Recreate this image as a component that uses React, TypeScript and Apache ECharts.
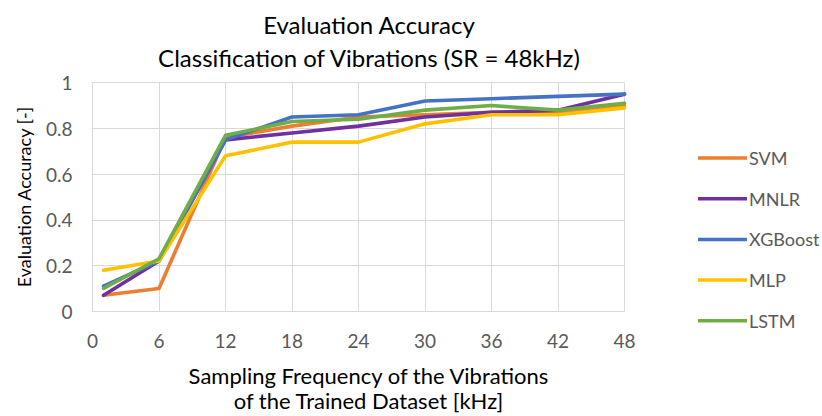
import React, { useEffect, useRef } from "react";
import * as echarts from "echarts";

const xValues = [1, 6, 12, 18, 24, 30, 36, 42, 48];
const seriesNames = ["SVM", "MNLR", "XGBoost", "MLP", "LSTM"];
const svm = [0.07, 0.1, 0.76, 0.81, 0.85, 0.86, 0.87, 0.87, 0.9];
const mnlr = [0.07, 0.22, 0.75, 0.78, 0.81, 0.85, 0.87, 0.88, 0.95];
const xgboost = [0.11, 0.22, 0.75, 0.85, 0.86, 0.92, 0.93, 0.94, 0.95];
const mlp = [0.18, 0.22, 0.68, 0.74, 0.74, 0.82, 0.86, 0.86, 0.89];
const lstm = [0.1, 0.23, 0.77, 0.83, 0.84, 0.88, 0.9, 0.88, 0.91];
const colors = ["#ED7D31", "#7030A0", "#4472C4", "#FFC000", "#70AD47"];

const FONT = "Lato, 'Open Sans', sans-serif";

export default function App() {
  const ref = useRef<HTMLDivElement>(null);
  useEffect(() => {
    if (!ref.current) return;
    const chart = echarts.init(ref.current, undefined, { renderer: "svg" });
    const allData = [svm, mnlr, xgboost, mlp, lstm];
    chart.setOption({
      animation: false,
      backgroundColor: "#ffffff",
      textStyle: { fontFamily: FONT },
      title: {
        text: "Evaluation Accuracy\nClassification of Vibrations (SR = 48kHz)",
        left: 364,
        top: 3,
        textAlign: "center",
        textStyle: { fontFamily: FONT, fontSize: 24, lineHeight: 33, fontWeight: "normal", color: "#000" },
      },
      legend: {
        orient: "vertical",
        left: 693,
        top: 143,
        itemWidth: 49,
        itemHeight: 3.5,
        itemGap: 20.7,
        icon: "rect",
        textStyle: { fontFamily: FONT, fontSize: 18, lineHeight: 20, color: "#595959", padding: [0, 0, 0, -3] },
        data: seriesNames,
      },
      grid: {
        left: 92.5,
        right: 197.5,
        top: 82.7,
        bottom: 104.7,
        containLabel: false,
        outerBoundsMode: "none",
      },
      xAxis: {
        type: "value",
        min: 0,
        max: 48,
        interval: 6,
        name: "Sampling Frequency of the Vibrations\nof the Trained Dataset [kHz]",
        nameLocation: "middle",
        nameGap: 52,
        nameTextStyle: { fontFamily: FONT, fontSize: 22, color: "#000", lineHeight: 25, padding: [0, 0, 0, 20] },
        axisLine: { show: true, lineStyle: { color: "#d9d9d9", width: 1 } },
        axisTick: { show: false },
        axisLabel: { fontFamily: FONT, fontSize: 19, color: "#595959", margin: 20 },
        splitLine: { show: true, lineStyle: { color: "#d9d9d9", width: 1 } },
      },
      yAxis: {
        type: "value",
        min: 0,
        max: 1,
        interval: 0.2,
        name: "Evaluation Accuracy [-]",
        nameLocation: "middle",
        nameGap: 60,
        nameTextStyle: { fontFamily: FONT, fontSize: 18, color: "#000" },
        axisLine: { show: true, lineStyle: { color: "#d9d9d9", width: 1 } },
        axisTick: { show: false },
        axisLabel: { fontFamily: FONT, fontSize: 19, color: "#595959", margin: 20 },
        splitLine: { show: true, lineStyle: { color: "#d9d9d9", width: 1 } },
      },
      series: seriesNames.map((name, i) => ({
        name,
        type: "line",
        data: xValues.map((x, j) => [x, allData[i][j]]),
        showSymbol: false,
        symbol: "none",
        lineStyle: { color: colors[i], width: 3.6, cap: "round", join: "round" },
        itemStyle: { color: colors[i] },
      })),
    });
    return () => chart.dispose();
  }, []);
  return <div ref={ref} style={{ width: 822, height: 416, position: "absolute", left: 0, top: 0 }} />;
}
